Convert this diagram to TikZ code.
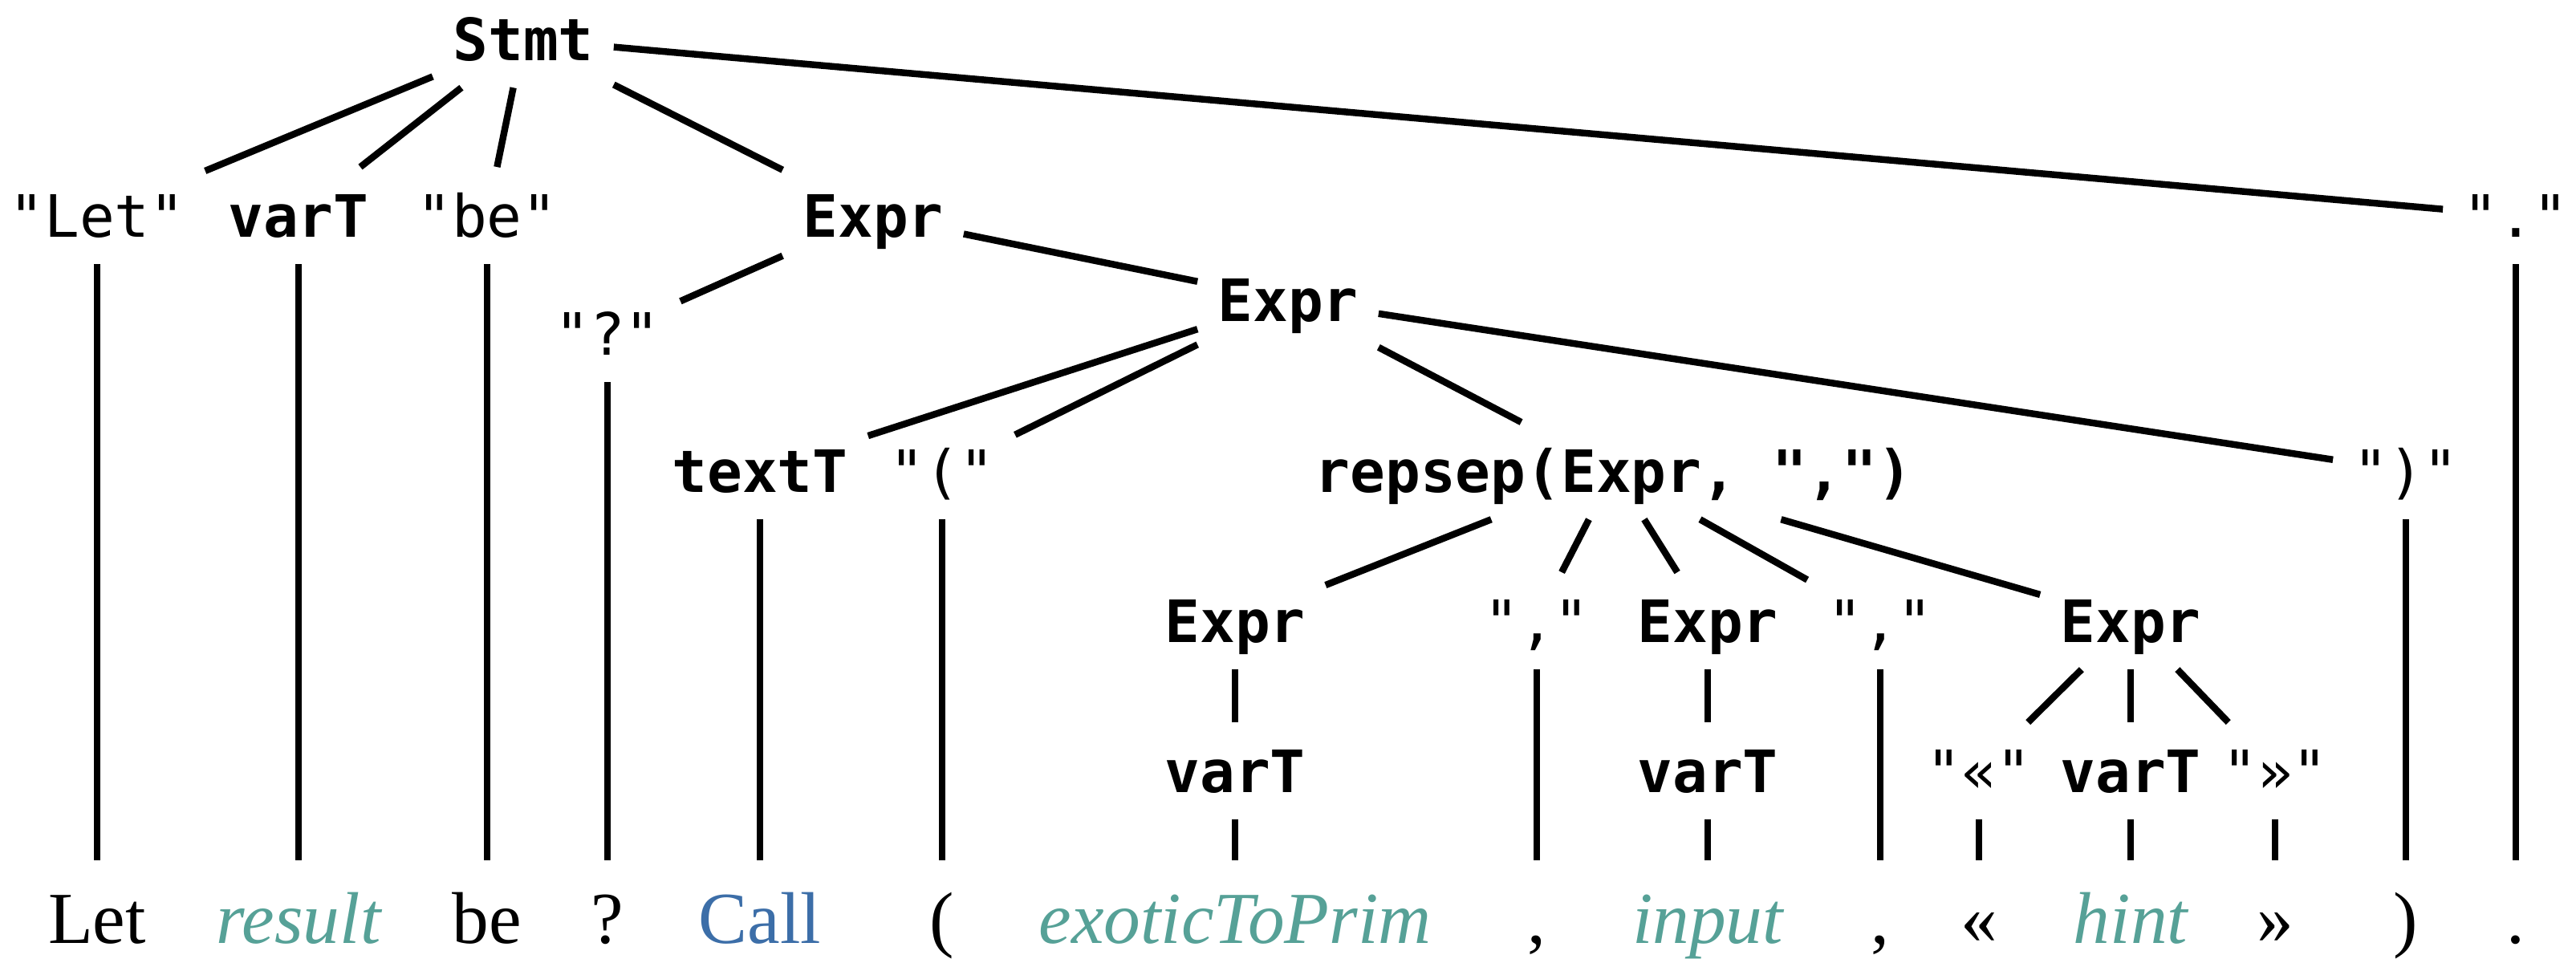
\documentclass[tikz,border=0pt]{standalone}
\usepackage{fontspec}
\setmainfont{Liberation Serif}
\newfontfamily\treefont{DejaVu Sans Mono}
\usetikzlibrary{positioning}
\definecolor{idteal}{RGB}{86,161,151}
\definecolor{kwblue}{RGB}{60,110,168}
\tikzset{
    parse tree/.style = {line width=2.4pt},
    tok/.style   = {font=\treefont\fontsize{20.7}{24}\selectfont, anchor=base,
                    text height=15pt, text depth=0pt,
                    inner xsep=0.21cm, inner ysep=0.30cm},
    nt/.style    = {tok, font=\treefont\bfseries\fontsize{20.7}{24}\selectfont},
    word/.style  = {font=\fontsize{26}{30}\selectfont, anchor=base,
                    text height=18pt, text depth=0pt,
                    inner xsep=0.1cm, inner ysep=0.36cm},
    ident/.style = {word, text=idteal, font=\fontsize{26}{30}\selectfont\itshape},
    kw/.style    = {word, text=kwblue},
    edge/.style  = {line width=2.4pt}
}
\def\rowone{-2.95}
\def\rowtwo{-6.13}
\def\rowthree{-8.00}
\def\rowfour{-9.87}
\def\rowword{-11.75}

\begin{document}
\begin{tikzpicture}[parse tree]
\useasboundingbox (0,0) rectangle (32.10,-11.94);
\coordinate (wordline) at (0,\rowword);

\node[nt] (stmt) at (6.52,-0.75) {Stmt};

\node[tok] (qlet)   at (1.21,\rowone)  {"Let"};
\node[nt]  (varone) at (3.72,\rowone)  {varT};
\node[tok] (qbe)    at (6.07,\rowone)  {"be"};
\node[nt]  (exprone) at (10.88,\rowone) {Expr};
\node[tok] (qdot)   at (31.35,\rowone) {"."};

\node[tok] (qmark)  at (7.57,-4.42) {"?"};
\node[nt]  (exprtwo) at (16.05,-4.00) {Expr};

\node[nt]  (textt)  at (9.47,\rowtwo)  {textT};
\node[tok] (qlpar)  at (11.74,\rowtwo) {"("};
\node[nt]  (repsep) at (20.11,\rowtwo) {repsep(Expr, ",")};
\node[tok] (qrpar)  at (29.98,\rowtwo) {")"};

\node[nt]  (expra)  at (15.39,\rowthree) {Expr};
\node[tok] (qcoma)  at (19.15,\rowthree) {","};
\node[nt]  (exprb)  at (21.28,\rowthree) {Expr};
\node[tok] (qcomb)  at (23.43,\rowthree) {","};
\node[nt]  (exprc)  at (26.55,\rowthree) {Expr};

\node[nt]  (varta)  at (15.39,\rowfour) {varT};
\node[nt]  (vartb)  at (21.28,\rowfour) {varT};
\node[tok] (qlaq)   at (24.66,\rowfour) {"«"};
\node[nt]  (vartc)  at (26.55,\rowfour) {varT};
\node[tok] (qraq)   at (28.35,\rowfour) {"»"};

% the sentence
\node[word]  (wlet)    at (qlet |- wordline)    {Let};
\node[ident] (wresult) at (varone |- wordline)  {result};
\node[word]  (wbe)     at (qbe |- wordline)     {be};
\node[word]  (wqm)     at (qmark |- wordline)   {?};
\node[kw]    (wcall)   at (textt |- wordline)   {Call};
\node[word]  (wlpar)   at (qlpar |- wordline)   {(};
\node[ident] (wexotic) at (varta |- wordline)   {exoticToPrim};
\node[word]  (wcoma)   at (qcoma |- wordline)   {,};
\node[ident] (winput)  at (vartb |- wordline)   {input};
\node[word]  (wcomb)   at (qcomb |- wordline)   {,};
\node[word]  (wlaq)    at (qlaq |- wordline)    {«};
\node[ident] (whint)   at (vartc |- wordline)   {hint};
\node[word]  (wraq)    at (qraq |- wordline)    {»};
\node[word]  (wrpar)   at (qrpar |- wordline)   {)};
\node[word]  (wdot)    at (qdot |- wordline)    {.};

\foreach \p/\c in {stmt/qlet,stmt/varone,stmt/qbe,stmt/exprone,stmt/qdot,
                   exprone/qmark,exprone/exprtwo,
                   exprtwo/textt,exprtwo/qlpar,exprtwo/repsep,exprtwo/qrpar,
                   repsep/expra,repsep/qcoma,repsep/exprb,repsep/qcomb,repsep/exprc,
                   expra/varta,exprb/vartb,
                   exprc/qlaq,exprc/vartc,exprc/qraq}
    \draw[edge] (\p) -- (\c);

% leaves down to the words
\foreach \p/\c in {qlet/wlet,varone/wresult,qbe/wbe,qmark/wqm,textt/wcall,
                   qlpar/wlpar,varta/wexotic,qcoma/wcoma,vartb/winput,qcomb/wcomb,
                   qlaq/wlaq,vartc/whint,qraq/wraq,qrpar/wrpar,qdot/wdot}
    \draw[edge] (\p) -- (\c);
\end{tikzpicture}
\end{document}
